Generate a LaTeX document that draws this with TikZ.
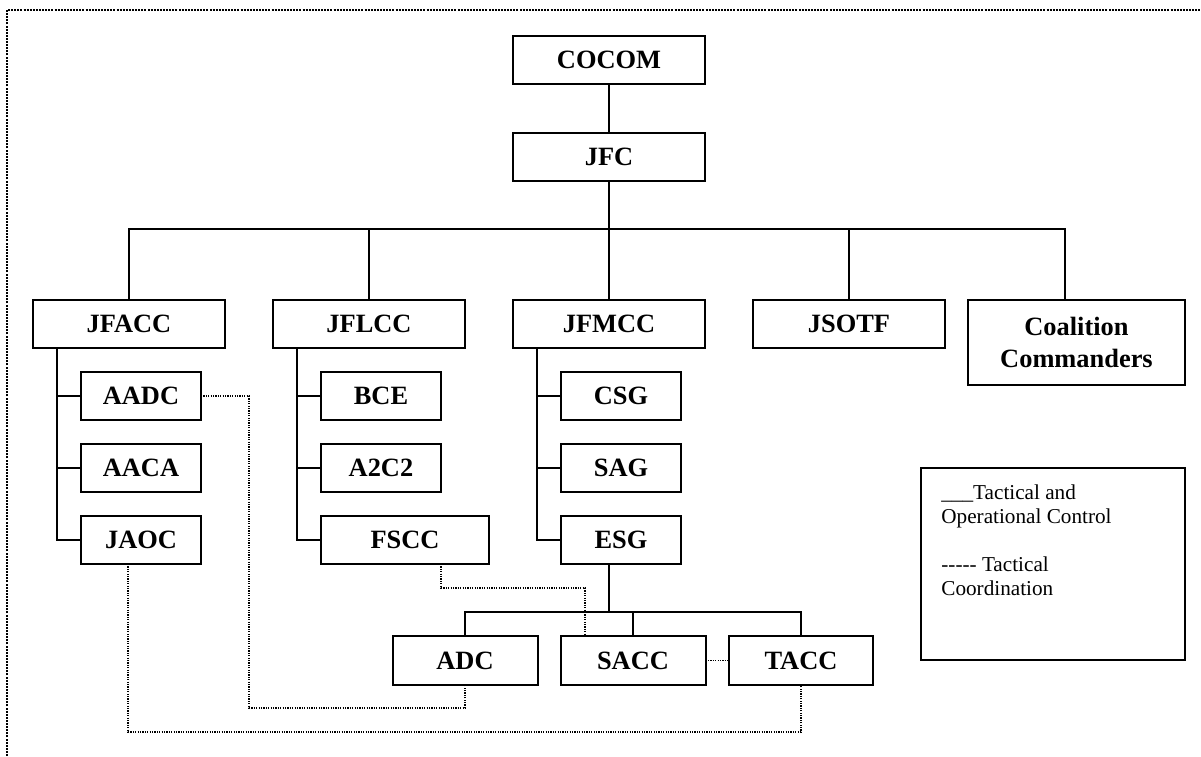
\documentclass[tikz,border=0pt]{standalone}
\usepackage{fontspec}
\setmainfont{Liberation Serif}

\begin{document}
\begin{tikzpicture}[x=0.5pt,y=-0.5pt,
  unit/.style={draw,line width=1pt,inner sep=0pt,outer sep=0pt,font=\fontsize{13.2}{16}\selectfont\bfseries,align=center},
  topbox/.style={unit,minimum width=96pt,minimum height=24pt},
  subbox/.style={unit,minimum width=60pt,minimum height=24pt},
  conn/.style={line width=0.9pt},
  coord/.style={line width=0.75pt,dash pattern=on 0.6pt off 0.6pt},
  frame/.style={line width=1pt,dash pattern=on 1pt off 0.55pt}]
\useasboundingbox (0,0) rectangle (1201,756);

%dotted frame, cut on two sides
\draw [frame] (7,756) -- (7,10) -- (1201,10);

%Shape: top of the chain
\node [topbox] (cocom) at (609,60) {COCOM};
\node [topbox] (jfc) at (609,156.5) {JFC};
\coordinate (bus) at (609,229);

%Shape: component commands
\node [topbox] (jfacc) at (129,324) {JFACC};
\node [topbox] (jflcc) at (369,324) {JFLCC};
\node [topbox] (jfmcc) at (609,324) {JFMCC};
\node [topbox] (jsotf) at (849,324) {JSOTF};
\node [unit,minimum width=108.5pt,minimum height=42.5pt] (coal) at (1076.5,342.5) {Coalition\\Commanders};
\coordinate (ctop) at (1065,300);

%Shape: sub units
\node [subbox] (aadc) at (141,396) {AADC};
\node [subbox] (aaca) at (141,468) {AACA};
\node [subbox] (jaoc) at (141,540) {JAOC};
\node [subbox] (bce) at (381,396) {BCE};
\node [subbox] (atwo) at (381,468) {A2C2};
\node [subbox,minimum width=84pt] (fscc) at (405,540) {FSCC};
\node [subbox] (csg) at (621,396) {CSG};
\node [subbox] (sag) at (621,468) {SAG};
\node [subbox] (esg) at (621,540) {ESG};

%Shape: air control centres
\node [subbox,minimum width=72.5pt,minimum height=24.5pt] (adc) at (465,660.5) {ADC};
\node [subbox,minimum width=72.5pt,minimum height=24.5pt] (sacc) at (633,660.5) {SACC};
\node [subbox,minimum width=72pt,minimum height=24.5pt] (tacc) at (801,660.5) {TACC};
\coordinate (lbus) at (609,612);

%Straight Lines: control
\draw [conn] (cocom) -- (jfc);
\draw [conn] (jfc.south) -- (bus);
\draw [conn] (jfacc.north) |- (ctop |- bus) -- (ctop);
\foreach \n in {jflcc,jfmcc,jsotf}
  \draw [conn] (\n.north) -- (\n.north |- bus);
\foreach \hd/\a/\b/\c/\sx in {jfacc/aadc/aaca/jaoc/57,jflcc/bce/atwo/fscc/297,jfmcc/csg/sag/esg/537}{
  \coordinate (sp) at (\sx,0);
  \draw [conn] (\hd.south -| sp) |- (\c.west);
  \draw [conn] (\a.west) -- (\a.west -| sp);
  \draw [conn] (\b.west) -- (\b.west -| sp);
}
\draw [conn] (lbus |- esg.south) -- (lbus);
\draw [conn] (adc.north) |- (lbus) -| (tacc.north);
\draw [conn] (sacc.north) -- (sacc.north |- lbus);

%Straight Lines: coordination
\coordinate (ab) at (249,708);
\coordinate (jb) at (128,732);
\coordinate (fb) at (441,588);
\coordinate (sb) at (585,588);
\draw [coord] (aadc.east) -| (ab) -| (adc.south);
\draw [coord] (jaoc.south -| jb) -- (jb) -| (tacc.south);
\draw [coord] (fscc.south -| fb) -- (fb) -- (sb) -- (sacc.north -| sb);
\draw [coord] (sacc) -- (tacc);

% Legend
\node [draw,line width=1pt,minimum width=132pt,minimum height=96pt,inner sep=0pt] (legend) at (1053,564) {};
\node [anchor=north west,inner sep=0pt,align=left,font=\fontsize{10.6}{12}\selectfont] (legtxt) at (941,484)
  {\_\_\_Tactical and\\Operational Control\\[12pt]{-}{-}{-}{-}{-} Tactical\\Coordination};
\end{tikzpicture}
\end{document}
